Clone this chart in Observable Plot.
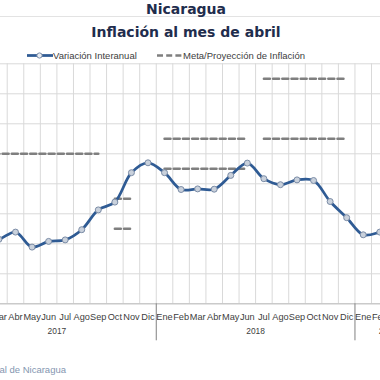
<!DOCTYPE html>
<html><head><meta charset="utf-8">
<script src="https://cdn.jsdelivr.net/npm/d3@7"></script>
<script src="https://cdn.jsdelivr.net/npm/@observablehq/plot@0.6"></script>
<style>
body{margin:0;background:#fff;}
#wrap{position:relative;width:380px;height:380px;overflow:hidden;background:#fff;}
#chart{position:absolute;left:-46px;top:0;}
#chart svg{max-width:none !important;}
.t{position:absolute;left:0;width:372px;text-align:center;font-family:"DejaVu Sans",sans-serif;font-weight:bold;color:#1f2d4d;white-space:nowrap;line-height:14px;font-size:14px;}
.lg{position:absolute;top:51px;font-family:"Liberation Sans",sans-serif;font-size:9.5px;line-height:10px;color:#404040;white-space:nowrap;}
.sym{position:absolute;top:50px;}
#cap{position:absolute;right:314px;top:365px;font-family:"Liberation Sans",sans-serif;font-size:9.5px;line-height:10px;color:#8496b0;white-space:nowrap;}
#rule{position:absolute;left:0;top:16px;width:380px;height:1px;background:#e3e3e3;}
</style>
</head><body>
<div id="wrap">
<div id="chart"></div>
<div id="rule"></div>
<div class="t" style="top:2px">Nicaragua</div>
<div class="t" style="top:25px">Inflación al mes de abril</div>
<svg class="sym" style="left:26px" width="28" height="12"><line x1="1" y1="5.5" x2="27" y2="5.5" stroke="#2f5b94" stroke-width="2.75"/><circle cx="13.5" cy="5.5" r="2.6" fill="#e8ecf2" stroke="#7b8ca6" stroke-width="1"/></svg>
<div class="lg" style="left:53px">Variación Interanual</div>
<svg class="sym" style="left:156px" width="28" height="12"><line x1="1" y1="5.5" x2="27" y2="5.5" stroke="#7f7f7f" stroke-width="2.5" stroke-dasharray="6,3.2"/></svg>
<div class="lg" style="left:183px">Meta/Proyección de Inflación</div>
<div id="cap">Fuente: Banco Central de Nicaragua</div>
</div>
<script>
const months = ["Ene","Feb","Mar","Abr","May","Jun","Jul","Ago","Sep","Oct","Nov","Dic"];
const years = ["2017","2018","2019"];
const monthsPerYear = [12, 12, 4];
// Variación interanual (%), Ene 2017 .. Abr 2019 (first two and last two are off-picture estimates)
const interanual = [3.0, 3.1, 3.15, 3.39, 2.89, 3.08, 3.13, 3.47, 4.13, 4.39, 5.37, 5.70,
                    5.37, 4.81, 4.83, 4.82, 5.28, 5.69, 5.17, 4.97, 5.13, 5.11, 4.41, 3.87,
                    3.30, 3.39, 3.6, 3.9];
// Meta / proyección de inflación segments
const metaFrom  = ["Ene 2017", "Oct 2017", "Oct 2017", "Ene 2018", "Ene 2018", "Jul 2018", "Jul 2018"];
const metaTo    = ["Sep 2017", "Nov 2017", "Nov 2017", "Jun 2018", "Jun 2018", "Dic 2018", "Dic 2018"];
const metaValue = [6.0, 4.5, 3.5, 6.5, 5.5, 8.5, 6.5];
const yTicks = [1, 2, 3, 4, 5, 6, 7, 8, 9];

const cats = [];
years.forEach((y, yi) => {
  for (let m = 0; m < monthsPerYear[yi]; m++) {
    cats.push({i: cats.length, month: months[m], year: y, key: months[m] + " " + y, value: interanual[cats.length]});
  }
});
const idx = new Map(cats.map(d => [d.key, d.i]));
const N = cats.length;
const boundaries = d3.range(-0.5, N, 1);
const yearGroups = years.map(y => {
  const g = cats.filter(d => d.year === y);
  return {year: y, center: (g[0].i + g[g.length - 1].i) / 2, end: g[g.length - 1].i + 0.5};
});
const yearBounds = yearGroups.slice(0, -1).map(g => g.end);
const metaPts = [];
metaValue.forEach((v, s) => {
  metaPts.push({seg: s, i: idx.get(metaFrom[s]), value: v});
  metaPts.push({seg: s, i: idx.get(metaTo[s]), value: v});
});

const chart = Plot.plot({
  width: 470, height: 380,
  marginTop: 63.3, marginBottom: 76.7, marginLeft: 0, marginRight: 0,
  x: {domain: [-0.5, N - 0.5], range: [3.04, 466.7], axis: null},
  y: {domain: [yTicks[0], yTicks[yTicks.length - 1]], range: [303.3, 63.3], axis: null},
  style: {background: "transparent", maxWidth: "none", fontFamily: "'Liberation Sans',sans-serif", fontSize: "9.2px", color: "#404040"},
  marks: [
    Plot.gridX(boundaries, {stroke: "#d9d9d9", strokeOpacity: 1}),
    Plot.gridY(yTicks, {stroke: "#d9d9d9", strokeOpacity: 1}),
    Plot.ruleY([yTicks[0]], {stroke: "#bfbfbf"}),
    Plot.axisX(cats.map(d => d.i), {tickSize: 0, tickPadding: 9.5, tickFormat: i => cats[i].month, label: null, fill: "#404040", style: {letterSpacing: "-0.5px"}}),
    Plot.axisX(yearBounds, {tickSize: 37, tickFormat: () => "", label: null, stroke: "#808080"}),
    Plot.text(yearGroups, {x: "center", text: "year", frameAnchor: "bottom", dy: 30.5, fill: "#404040", fontSize: 8.4}),
    Plot.line(metaPts, {x: "i", y: "value", z: "seg", stroke: "#7f7f7f", strokeWidth: 2.5, strokeDasharray: "6,3.2"}),
    Plot.line(cats, {x: "i", y: "value", curve: "catmull-rom", stroke: "#2f5b94", strokeWidth: 2.75}),
    Plot.dot(cats, {x: "i", y: "value", r: 3, fill: "#c9d1dc", stroke: "#7b8ca6", strokeWidth: 1})
  ]
});
document.getElementById("chart").appendChild(chart);
</script>
</body></html>
